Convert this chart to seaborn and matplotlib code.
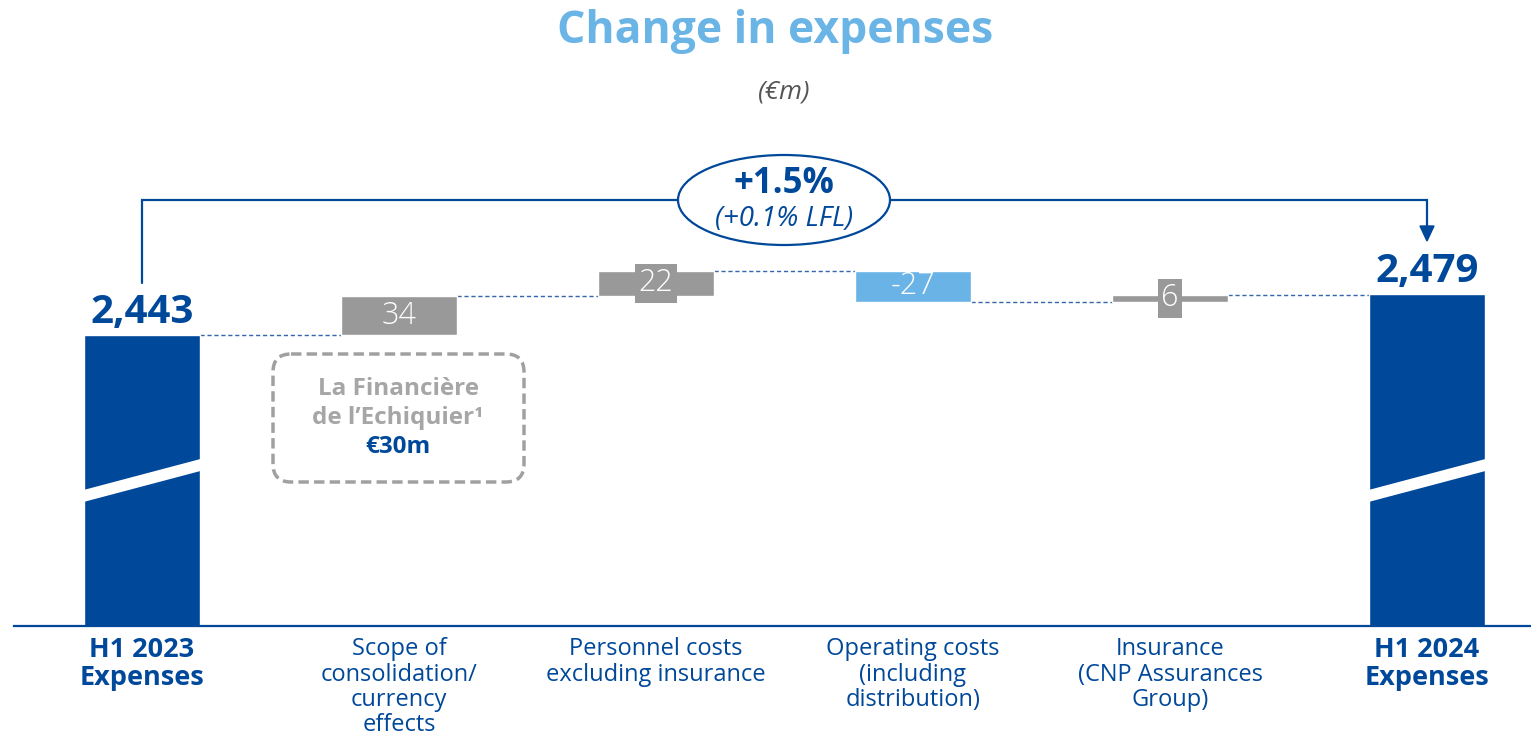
import numpy as np
import pandas as pd
import matplotlib
matplotlib.use("Agg")
import matplotlib.pyplot as plt
import seaborn as sns
from matplotlib.patches import Ellipse, FancyBboxPatch, Polygon

# ---------------- data ----------------
categories = ["H1 2023\nExpenses",
              "Scope of\nconsolidation/\ncurrency\neffects",
              "Personnel costs\nexcluding insurance",
              "Operating costs\n(including\ndistribution)",
              "Insurance\n(CNP Assurances\nGroup)",
              "H1 2024\nExpenses"]
start_total = 2443
end_total = 2479
changes = [34, 22, -27, 6]
change_labels = ["34", "22", "-27", "6"]
total_labels = ["2,443", "2,479"]

DARK = "#00489A"
GRAY = "#999999"
LIGHT = "#69B3E7"
TITLE = "#6AB4E6"

W, H = 1531, 736
sns.set_theme(style="white")
plt.rcParams['font.family'] = ['Open Sans', 'DejaVu Sans']

fig = plt.figure(figsize=(W / 100, H / 100), dpi=100)
fig.patch.set_facecolor("white")

# main axes: baseline at pixel y=626, category centers at 142 + 257*i
base_px = 626
s = 1.147                      # pixels per €m
y0 = start_total - (base_px - 335) / s
y1 = y0 + base_px / s
ax_left = 14
ax = fig.add_axes([ax_left / W, (H - base_px) / H, (W - ax_left) / W, base_px / H])
ax.set_facecolor("none")

bw = 0.455
tot_vals = [start_total] + [np.nan] * len(changes) + [end_total]
df = pd.DataFrame({"cat": categories, "total": tot_vals})
sns.barplot(data=df, x="cat", y="total", order=categories, color=DARK,
            saturation=1, width=bw, ax=ax, zorder=2)

ax.set_xlim((ax_left - 142) / 257, (W - 142) / 257)
ax.set_ylim(y0, y1)

# floating steps
before = start_total + np.concatenate([[0], np.cumsum(changes)[:-1]])
for k, (chg, b, lab) in enumerate(zip(changes, before, change_labels)):
    col = GRAY if chg >= 0 else LIGHT
    ax.bar(k + 1, chg, bottom=b, width=bw, color=col, zorder=2)
    kw = {}
    if abs(chg) < 25:
        kw["bbox"] = dict(facecolor=col, edgecolor="none", pad=2.5)
    ax.text(k + 1, b + chg / 2, lab, ha="center", va="center", color="white",
            fontsize=22, fontweight="light", zorder=4, **kw)

# connectors
conn_levels = [start_total, before[1], before[2], before[3],
               start_total + sum(changes)]
for k, lv in enumerate(conn_levels):
    ax.plot([k + bw / 2, k + 1 - bw / 2], [lv, lv], color="#3366AA",
            lw=1, ls=(0, (3, 2)), zorder=1)

# total labels
for xi, v, lab in [(0, start_total, total_labels[0]), (5, end_total, total_labels[1])]:
    ax.annotate(lab, (xi, v), xytext=(0, 2), textcoords="offset points",
                ha="center", va="bottom", fontsize=29, fontweight="bold", color=DARK)

# break bands on total bars (white diagonal)
def p2v(py):
    return y0 + (base_px - py) / s
for xi in (0, 5):
    poly = Polygon([(xi - bw / 2, p2v(490)), (xi + bw / 2, p2v(459)),
                    (xi + bw / 2, p2v(471)), (xi - bw / 2, p2v(502))],
                   closed=True, facecolor="white", edgecolor="none", zorder=3)
    ax.add_patch(poly)

# axes styling
sns.despine(ax=ax, left=True, top=True, right=True)
ax.spines["bottom"].set_color(DARK)
ax.spines["bottom"].set_linewidth(1.6)
ax.set_yticks([])
ax.set_xlabel("")
ax.set_ylabel("")
ax.set_xticks(range(len(categories)))
ax.set_xticklabels(categories)
ax.tick_params(axis="x", length=0, pad=8)
for i, t in enumerate(ax.get_xticklabels()):
    t.set_color(DARK)
    if i in (0, len(categories) - 1):
        t.set_fontweight("bold")
        t.set_fontsize(19.5)
        t.set_linespacing(1.08)
    else:
        t.set_fontsize(17)
        t.set_linespacing(1.08)
    t.set_multialignment("center")
ax.grid(False)

# ------------- overlay in pixel coordinates -------------
ov = fig.add_axes([0, 0, 1, 1])
ov.set_xlim(0, W)
ov.set_ylim(H, 0)
ov.axis("off")
ov.set_facecolor("none")

ov.text(775, 43, "Change in expenses", ha="center", va="baseline",
        fontsize=32, fontweight="bold", color=TITLE)
ov.text(784, 92, "(€m)", ha="center", va="center", fontsize=19,
        fontstyle="italic", color="#555555")

# bracket
ov.plot([142, 142, 678], [283, 200, 200], color=DARK, lw=1.6, solid_joinstyle="miter")
ov.plot([890, 1427, 1427], [200, 200, 228], color=DARK, lw=1.6, solid_joinstyle="miter")
ov.add_patch(Polygon([(1420, 226), (1434, 226), (1427, 241)], closed=True,
                     facecolor=DARK, edgecolor=DARK))
ov.add_patch(Ellipse((784, 200), 212, 90, facecolor="white", edgecolor=DARK, lw=1.6))
ov.text(784, 184, "+1.5%", ha="center", va="center", fontsize=25,
        fontweight="bold", color=DARK)
ov.text(784, 219, "(+0.1% LFL)", ha="center", va="center", fontsize=20,
        fontstyle="italic", color=DARK)

# annotation box
ov.add_patch(FancyBboxPatch((273, 354), 251, 128,
                            boxstyle="round,pad=0,rounding_size=18",
                            facecolor="none", edgecolor="#A0A0A0", lw=2.5,
                            ls=(0, (3, 1.5))))
ov.text(398, 389, "La Financière", ha="center", va="center", fontsize=17.5,
        fontweight="bold", color="#A6A6A6")
ov.text(398, 418, "de l’Echiquier¹", ha="center", va="center", fontsize=17.5,
        fontweight="bold", color="#A6A6A6")
ov.text(398, 447, "€30m", ha="center", va="center", fontsize=17.5,
        fontweight="bold", color=DARK)

fig.savefig("out.png", dpi=100, facecolor="white")
